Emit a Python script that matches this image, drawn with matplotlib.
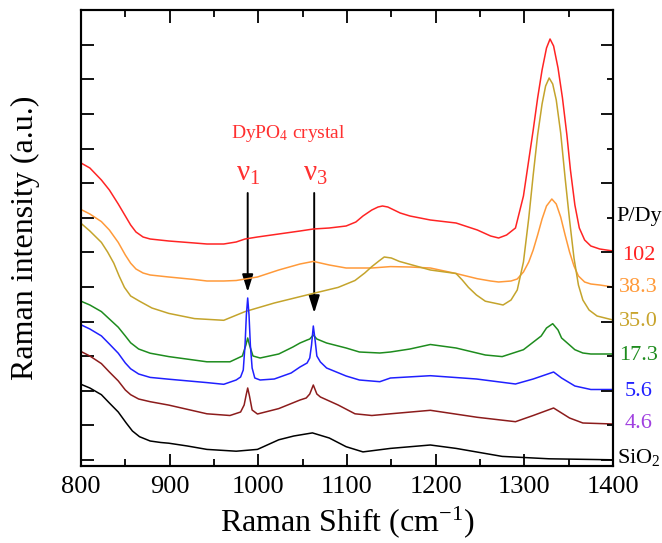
import matplotlib
matplotlib.use("Agg")
import matplotlib.pyplot as plt
from matplotlib.ticker import MultipleLocator, NullFormatter
from matplotlib.patches import FancyArrowPatch

plt.rcParams['font.family'] = ['Liberation Serif', 'DejaVu Serif']
plt.rcParams['mathtext.fontset'] = 'custom'
plt.rcParams['mathtext.rm'] = 'Liberation Serif'
plt.rcParams['mathtext.it'] = 'Liberation Serif:italic'

# ---------------- data (Raman shift in cm-1, intensity in a.u., offset stacked) ----------------
x_102 = [800, 810, 823, 832, 842, 850, 856, 862, 870, 878, 899, 928, 942, 961, 975, 985, 999, 1023, 1047,
         1062, 1080, 1099, 1110, 1118, 1128, 1135, 1140, 1146, 1153, 1160, 1171, 1194, 1223, 1247, 1262,
         1271, 1280, 1290, 1299, 1305, 1310, 1315, 1320, 1325, 1329, 1333, 1338, 1343, 1348, 1352, 1357,
         1362, 1368, 1375, 1385, 1400]
y_102 = [297, 292, 280, 270, 256, 244, 235, 228, 223, 221, 219, 217, 216, 216, 218, 221, 223, 226, 229,
         231, 232, 234, 238, 244, 250, 253, 254, 253, 250, 247, 244, 240, 237, 230, 224,
         222, 225, 232, 264, 300, 330, 362, 390, 412, 421, 414, 392, 362, 325, 290, 255,
         232, 220, 214, 211, 209]

x_383 = [800, 810, 823, 832, 842, 850, 856, 862, 870, 878, 899, 928, 942, 961, 975, 999, 1023, 1047, 1062,
         1080, 1099, 1128, 1149, 1171, 1194, 1223, 1247, 1262, 1271, 1285, 1292, 1299, 1305, 1310, 1315,
         1320, 1325, 1331, 1336, 1341, 1346, 1351, 1356, 1361, 1368, 1375, 1385, 1400]
y_383 = [250.5, 246, 238.4, 230, 217.6, 205, 196.8, 191, 187, 185, 183, 180.5, 179, 179, 179.5, 183, 190,
         196, 198.6, 195, 192, 192, 193.4, 193, 192, 186.5, 181.3, 179, 178, 179, 181, 188, 198, 210, 225,
         241, 254, 261, 256, 243, 225, 208, 194, 184, 178, 176, 175, 173]

x_350 = [800, 810, 823, 830, 837, 843, 849, 856, 866, 880, 899, 928, 961, 985, 1018, 1061, 1090, 1109,
         1120, 1128, 1136, 1142, 1150, 1159, 1194, 1223, 1230, 1237, 1246, 1256, 1271, 1276, 1285, 1292,
         1299, 1305, 1310, 1315, 1320, 1324, 1328, 1332, 1336, 1341, 1346, 1351, 1356, 1361, 1366, 1373,
         1382, 1400]
y_350 = [236.7, 229, 217.6, 208, 196.8, 184, 172.6, 164, 158.8, 152, 146.6, 141.4, 139.7, 148.4, 157,
         166.4, 172.6, 179.5, 187, 193.4, 199, 203, 202, 198.6, 190, 186.5, 180, 172.6, 165, 158.8, 156,
         155, 160, 170, 198, 242, 285, 325, 356, 374, 382, 376, 360, 327, 282, 240, 202, 175, 160, 150,
         144, 140]

x_173 = [800, 810, 823, 832, 842, 850, 856, 865, 878, 899, 942, 968, 982, 986, 988, 990, 994, 1002, 1023,
         1039, 1047, 1055, 1058, 1062, 1066, 1077, 1099, 1114, 1137, 1149, 1171, 1194, 1223, 1256, 1275,
         1299, 1319, 1325, 1332, 1338, 1342, 1351, 1357, 1366, 1375, 1400]
y_173 = [158.8, 155, 148.4, 141, 132.8, 124, 117.2, 111, 106.8, 103.4, 98.2, 98.2, 104, 115, 122, 115,
         104, 102, 106, 113, 117, 120, 121, 125, 121, 117, 112, 108, 107, 108, 111, 115.5, 112, 105, 103.4,
         110.3, 124, 132, 136.3, 130, 122, 115, 110.3, 107, 106, 106]

x_56 = [800, 810, 823, 832, 842, 850, 856, 865, 878, 899, 942, 961, 975, 980, 983, 985, 986.5, 988, 989.5,
        991, 993, 996, 1002, 1018, 1037, 1047, 1055, 1058, 1060, 1062, 1064, 1066, 1070, 1077, 1099, 1114,
        1137, 1149, 1194, 1246, 1290, 1310, 1333, 1342, 1357, 1375, 1400]
y_56 = [135.2, 131, 124.1, 116, 106.8, 97, 91.2, 86, 82.6, 80.8, 77.4, 75.7, 80, 83, 90, 115, 145, 162,
        145, 115, 92, 82, 80, 81, 87, 93, 97, 102, 115, 134, 120, 104, 98, 92, 84, 80,
        78.3, 82, 84.3, 81, 76, 81, 88, 82, 74, 70.5, 70.5]

x_46 = [800, 810, 823, 832, 842, 850, 856, 865, 878, 899, 942, 968, 980, 984, 986.5, 988, 990, 993, 999,
        1023, 1047, 1054, 1058, 1062, 1066, 1070, 1090, 1109, 1128, 1149, 1194, 1247, 1290, 1310, 1333,
        1342, 1351, 1366, 1400]
y_46 = [108.5, 104, 96.4, 88, 79.1, 70, 65.3, 61, 58.3, 54.9, 46.2, 44.5, 48, 55, 66, 72, 64, 50, 46,
        51.4, 60, 62, 66, 75, 66, 63, 55, 46.2, 44.5, 46.2, 49.7, 42.7, 38.3, 44.5, 52,
        47, 42, 37, 36]

x_sio2 = [800, 810, 823, 832, 842, 851, 858, 866, 878, 890, 899, 920, 942, 975, 999, 1023, 1040, 1061,
          1080, 1099, 1118, 1149, 1194, 1223, 1275, 1328, 1400]
y_sio2 = [75.7, 72, 65.3, 57, 48, 37, 29, 23.3, 19, 17.5, 16.8, 14, 10.6, 8.8, 10.6, 20.2, 24, 27.1, 22,
          13.3, 8.1, 11.6, 15, 11.6, 3.6, 1.2, 0.2]

series = [
    ("102", x_102, y_102, "#ff2424", "#ff2424", 205),
    ("38.3", x_383, y_383, "#ff9a3a", "#ff9a3a", 172),
    ("35.0", x_350, y_350, "#c4a42c", "#c8a42c", 138),
    ("17.3", x_173, y_173, "#1e8c1e", "#1e8c1e", 105),
    ("5.6", x_56, y_56, "#2020ff", "#2020ff", 68),
    ("4.6", x_46, y_46, "#8c1c1c", "#a040e0", 36),
    ("SiO$_2$", x_sio2, y_sio2, "#000000", "#000000", 3),
]
label_title = "P/Dy"
peak_positions = [988, 1063]
peak_names = ["\u03bd$_1$", "\u03bd$_3$"]

# ---------------- figure ----------------
W, H = 662, 543
fig = plt.figure(figsize=(W / 100, H / 100), dpi=100)
ax = fig.add_axes([81 / W, 77 / H, 532 / W, 456 / H])

for name, xs, ys, lc, tc, ly in series:
    ax.plot(xs, ys, color=lc, lw=1.1)

step = 34.6
ax.set_xlim(800, 1400)
ax.set_ylim(-6, 450)
ax.xaxis.set_major_locator(MultipleLocator(100))
ax.xaxis.set_minor_locator(MultipleLocator(50))
ax.set_yticks([step * k for k in range(13)])
ax.yaxis.set_major_formatter(NullFormatter())
ax.tick_params(axis='x', which='major', direction='in', length=9, width=1.3, top=True,
               labelsize=19, pad=7)
ax.tick_params(axis='x', which='minor', direction='in', length=5, width=1.3, top=True)
ax.tick_params(axis='y', which='major', direction='in', length=9, width=1.3, left=True, right=False)
for s in ax.spines.values():
    s.set_linewidth(1.5)

ax2 = ax.twinx()
ax2.set_ylim(-6, 450)
ax2.set_yticks([step * k for k in range(0, 13, 2)])
ax2.set_yticks([step * k for k in range(1, 13, 2)], minor=True)
ax2.yaxis.set_major_formatter(NullFormatter())
ax2.tick_params(axis='y', which='major', direction='in', length=9, width=1.3)
ax2.tick_params(axis='y', which='minor', direction='in', length=4, width=1.3)
for s in ax2.spines.values():
    s.set_linewidth(1.5)

ax.set_xlabel("Raman Shift (cm$^{-1}$)", fontsize=23, labelpad=5)
ax.set_ylabel("Raman intensity (a.u.)", fontsize=23, labelpad=26)

# right-side labels
xl = 1429
ax.text(xl, 243, label_title, fontsize=16, ha='center', va='center', color='black', clip_on=False)
for name, xs, ys, lc, tc, ly in series:
    ax.text(xl, ly, name, fontsize=16, ha='center', va='center', color=tc, clip_on=False)

# DyPO4 annotation
ax.text(1034, 327, "DyPO$_4$ crystal", fontsize=14, color='#ff3030', ha='center', va='center')
for xp, nm, y_end in zip(peak_positions, peak_names, [168, 147]):
    ax.text(xp + 1, 286, nm, fontsize=21, color='#ff3030', ha='center', va='center')
    arr = FancyArrowPatch((xp, 267), (xp, y_end), arrowstyle='-|>,head_length=0.7,head_width=0.22',
                          mutation_scale=15, color='black', lw=1.4, shrinkA=0, shrinkB=0)
    ax.add_patch(arr)

fig.savefig("out.png", dpi=100)
